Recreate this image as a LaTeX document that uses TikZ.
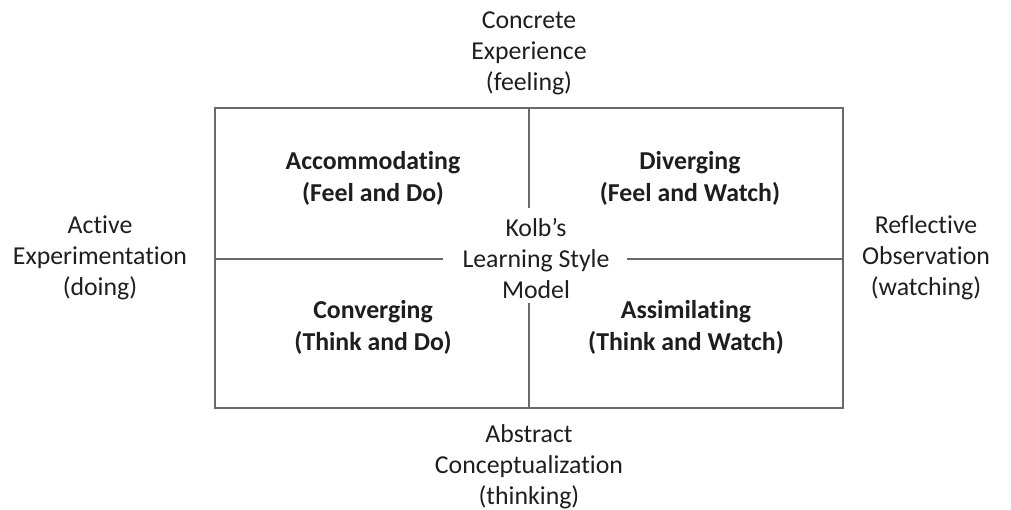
\documentclass[tikz,border=0pt]{standalone}
\usepackage{fontspec}
\setmainfont{Carlito}[Ligatures=NoCommon]
\definecolor{linec}{RGB}{105,105,105}
\definecolor{textc}{RGB}{30,30,30}
\begin{document}
\begin{tikzpicture}[x=1pt,y=-1pt,
  txt/.style={align=center,font=\fontsize{25.8}{31}\selectfont,text=textc,inner sep=0pt},
  bx/.style={align=center,font=\fontsize{25.8}{32}\selectfont\bfseries,text=textc,inner sep=0pt},
  ln/.style={draw=linec,line width=2pt}]
\useasboundingbox (0,0) rectangle (1011,510);
\coordinate (tl) at (215,108);
\coordinate (br) at (843,408);
\coordinate (tm) at (529,108);
\coordinate (bm) at (529,408);
\coordinate (lm) at (215,259);
\coordinate (rm) at (843,259);
\coordinate (ct) at (529,208);
\coordinate (cb) at (529,303);
\coordinate (cl) at (443,259);
\coordinate (cr) at (627,259);
\draw[ln] (tl) rectangle (br);
\draw[ln] (tm) -- (ct);
\draw[ln] (cb) -- (bm);
\draw[ln] (lm) -- (cl);
\draw[ln] (cr) -- (rm);
\node[txt] (model) at (536,258) {Kolb’s\\Learning Style\\Model};
\node[txt] (ce) at (529,53) {Concrete\\Experience\\(feeling)};
\node[txt] (ac) at (529,467) {Abstract\\Conceptualization\\(thinking)};
\node[txt] (ae) at (100,258) {Active\\Experimentation\\(doing)};
\node[txt] (ro) at (926,258) {Reflective\\Observation\\(watching)};
\node[bx] (acc) at (373,178) {Accommodating\\(Feel and Do)};
\node[bx] (div) at (690,178) {Diverging\\(Feel and Watch)};
\node[bx] (con) at (373,327) {Converging\\(Think and Do)};
\node[bx] (ass) at (686,327) {Assimilating\\(Think and Watch)};
\end{tikzpicture}
\end{document}
